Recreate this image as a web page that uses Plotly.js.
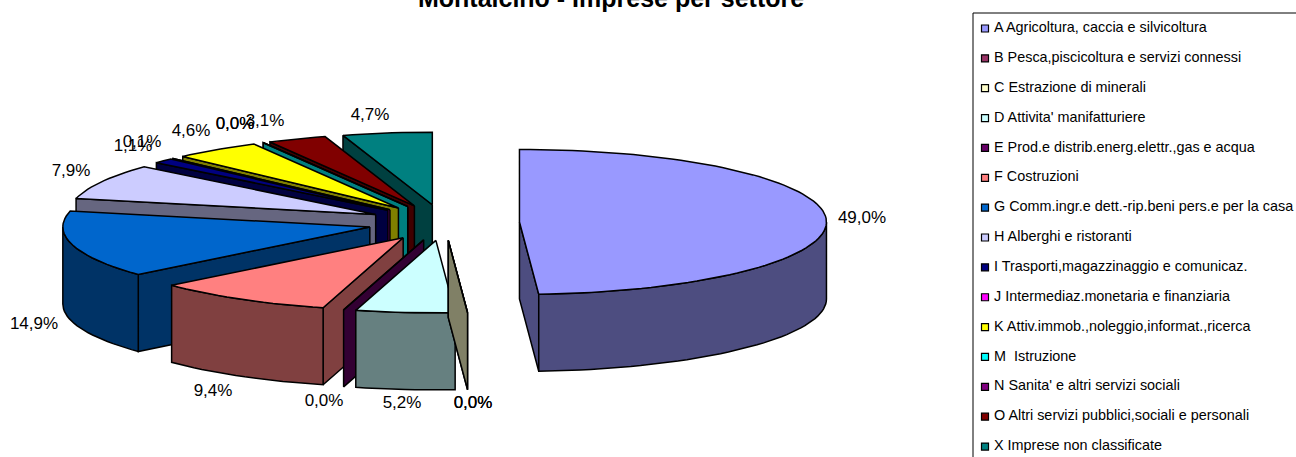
<!DOCTYPE html>
<html>
<head>
<meta charset="utf-8">
<script src="https://cdn.plot.ly/plotly-3.0.1.min.js"></script>
<style>html,body{margin:0;padding:0;background:#fff;overflow:hidden}#chart{width:1296px;height:457px}</style>
</head>
<body>
<div id="chart"></div>
<script>
const categories = ["A Agricoltura, caccia e silvicoltura","B Pesca,piscicoltura e servizi connessi","C Estrazione di minerali","D Attivita' manifatturiere","E Prod.e distrib.energ.elettr.,gas e acqua","F Costruzioni","G Comm.ingr.e dett.-rip.beni pers.e per la casa","H Alberghi e ristoranti","I Trasporti,magazzinaggio e comunicaz.","J Intermediaz.monetaria e finanziaria","K Attiv.immob.,noleggio,informat.,ricerca","M  Istruzione","N Sanita' e altri servizi sociali","O Altri servizi pubblici,sociali e personali","X Imprese non classificate"];
const values = [49.0,0.0,0.0,5.2,0.0,9.4,14.9,7.9,1.1,0.1,4.6,0.0,0.0,3.1,4.7];
const topColors = ["#9999FF","#993366","#FFFFCC","#CCFFFF","#660066","#FF8080","#0066CC","#CCCCFF","#000080","#FF00FF","#FFFF00","#00FFFF","#800080","#800000","#008080"];
const wallColors = ["#4D4D80","#4D1A33","#808066","#668080","#330033","#804040","#003366","#666680","#000040","#800080","#808000","#008080","#400040","#400000","#004040"];
const labelX = [862,473,473,402,324,213,34,71,133,142,191,235,235,265,370];
const labelY = [219,404,404,404,402,392,325,172,147,143,132,125,125,122,116];

// pie projection
const cx=443.5, cy=222.5, rx=307, ry=72.5, depth=77, explode=76;
const total = values.reduce((a,b)=>a+b,0);
const rad = d=>d*Math.PI/180;
const px = a=>Math.sin(rad(a)), py = a=>-Math.cos(rad(a));

let acc=0;
const slices = values.map((v,i)=>{
  const a0=acc/total*360; acc+=v; const a1=acc/total*360; const m=(a0+a1)/2;
  return {i,a0,a1,ax:cx+explode*px(m),ay:cy+explode*(ry/rx)*py(m)};
});
const rim=(s,a)=>[s.ax+rx*px(a),s.ay+ry*py(a)];
function arc(s,a,b){const n=Math.max(1,Math.ceil(Math.abs(b-a)/2));const p=[];for(let k=0;k<=n;k++)p.push(rim(s,a+(b-a)*k/n));return p;}
function poly(pts,color,name){
  const xs=pts.map(p=>p[0]).concat(pts[0][0]), ys=pts.map(p=>p[1]).concat(pts[0][1]);
  return {type:'scatter',mode:'lines',x:xs,y:ys,fill:'toself',fillcolor:color,line:{color:'#000',width:1.5},hoverinfo:'text',text:name,showlegend:false};
}
const traces=[];
// back to front
const order=[14,13,12,11,10,9,8,7,6,5,4,3,1,2,0];
order.forEach(i=>{
  const s=slices[i], name=categories[i], wall=wallColors[i];
  const A=[s.ax,s.ay];
  const r0=rim(s,s.a0), r1=rim(s,s.a1);
  const down=p=>[p[0],p[1]+depth];
  if(r0[0]<A[0]) traces.push(poly([A,r0,down(r0),down(A)],wall,name));
  if(A[0]<r1[0]) traces.push(poly([r1,A,down(A),down(r1)],wall,name));
  const f0=Math.max(s.a0,90), f1=Math.min(s.a1,270);
  if(f1>f0){const top=arc(s,f0,f1);traces.push(poly(top.concat(top.slice().reverse().map(down)),wall,name));}
  traces.push(poly([A].concat(arc(s,s.a0,s.a1)),topColors[i],name));
});
// data labels
traces.push({type:'scatter',mode:'text',x:labelX,y:labelY,text:values.map(v=>v.toFixed(1).replace('.',',')+'%'),textposition:'middle center',textfont:{family:'Liberation Sans, Arial, sans-serif',size:17,color:'#000'},hoverinfo:'skip',showlegend:false});
// legend
const legY0=28.5, legStep=29.86;
const legYs=categories.map((c,i)=>legY0+i*legStep);
traces.push({type:'scatter',mode:'markers',x:categories.map(()=>985),y:legYs,
  marker:{symbol:'square',size:7,color:topColors,line:{color:'#000',width:1.2}},hoverinfo:'skip',showlegend:false,cliponaxis:false});
traces.push({type:'scatter',mode:'text',x:categories.map(()=>994),y:legYs,text:categories,textposition:'middle right',
  textfont:{family:'Liberation Sans, Arial, sans-serif',size:14.4,color:'#000'},hoverinfo:'skip',showlegend:false,cliponaxis:false});

const layout={
  width:1296,height:457,margin:{l:0,r:0,t:0,b:0},paper_bgcolor:'#fff',plot_bgcolor:'#fff',showlegend:false,
  title:{text:'<b>Montalcino - Imprese per settore</b>',x:0.4715,xanchor:'center',y:0.985,yanchor:'bottom',font:{family:'Liberation Sans, Arial, sans-serif',size:25,color:'#000'}},
  xaxis:{range:[0,1296],visible:false,fixedrange:true},
  yaxis:{range:[457,0],visible:false,fixedrange:true},
  shapes:[{type:'rect',xref:'x',yref:'y',x0:973,x1:1297,y0:13,y1:459,line:{color:'#000',width:1},fillcolor:'rgba(0,0,0,0)',layer:'below'}]
};
Plotly.newPlot('chart',traces,layout,{displayModeBar:false,staticPlot:true});
</script>
</body>
</html>
